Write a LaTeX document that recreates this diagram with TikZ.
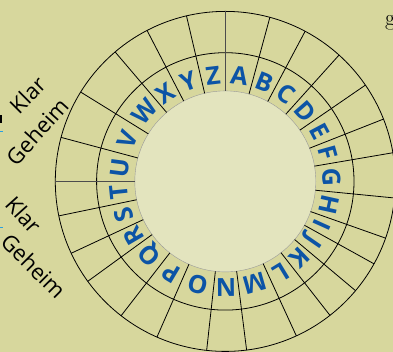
\documentclass[tikz,border=0pt]{standalone}
\usepackage{fontspec}
\newfontfamily\opensans{Open Sans}
\definecolor{grund}{RGB}{215,215,157}
\definecolor{scheibe}{RGB}{227,228,190}
\definecolor{buchstabe}{RGB}{12,84,166}
\definecolor{strichblau}{RGB}{40,160,225}
\begin{document}
\begin{tikzpicture}[x=1pt,y=1pt,
  buchst/.style={text=buchstabe,font=\opensans\bfseries\fontsize{25}{25}\selectfont,
    inner sep=0pt,text height=17.8pt,text depth=0pt},
  wort/.style={font=\opensans\fontsize{22}{22}\selectfont,inner sep=0pt},
  teil/.style={line width=0.8pt},
  marke/.style={line width=1.4pt,black!70}]
\useasboundingbox (0,0) rectangle (393,352);
\fill[grund] (0,0) rectangle (393,352);

% Scheibe
\begin{scope}[shift={(225.3,170.6)}]
\fill[scheibe] (0,0) circle (90.5);
\draw[black!40,line width=0.4pt] (0,0) circle (90.5);
\draw[teil] (0,0) circle (128.7);
\draw[teil] (0,0) circle (170);
\foreach \l/\a/\b in {A/90/74.8, B/74.8/62, C/62/48, D/48/34.5, E/34.5/21.5,
    F/21.5/9.7, G/9.7/-5.6, H/-5.6/-19.5, I/-19.5/-29, J/-29/-40, K/-40/-52,
    L/-52/-65.3, M/-65.3/-82.8, N/-82.8/-96.3, O/-96.3/-113.7, P/-113.7/-127.8,
    Q/-127.8/-144, R/-144/-155, S/-155/-168.3, T/-168.3/-180, U/-180/-195,
    V/-195/-211.7, W/-211.7/-229.6, X/-229.6/-242.6, Y/-242.6/-256.8, Z/-256.8/-270}{
  \draw[teil] (\b:90.5) -- (\b:170);
  \node[buchst,rotate={(\a+\b)/2-90}] (L\l) at ({(\a+\b)/2}:106.5) {\l};
}
\draw[marke] (90:90.5) -- (90:170);
\draw[marke] (180:90.5) -- (180:170);
\end{scope}

% Beschriftung links
\node[wort,rotate=45] (klar1) at (27.5,257) {Klar};
\node[wort,rotate=48] (geheim1) at (37,220.3) {Geheim};
\node[wort,rotate=-48] (klar2) at (23.5,137) {Klar};
\node[wort,rotate=-45] (geheim2) at (33.5,86) {Geheim};
\fill[black] (0,229.3) rectangle (2,237);
\draw[strichblau,line width=1.5pt] (0,220.3) -- (3,220.3);
\draw[strichblau,line width=1.5pt] (0,124.3) -- (3,124.3);

\node[anchor=base west,font=\fontsize{23}{23}\selectfont,inner sep=0pt] (rest) at (385,326.6) {g};
\end{tikzpicture}
\end{document}
